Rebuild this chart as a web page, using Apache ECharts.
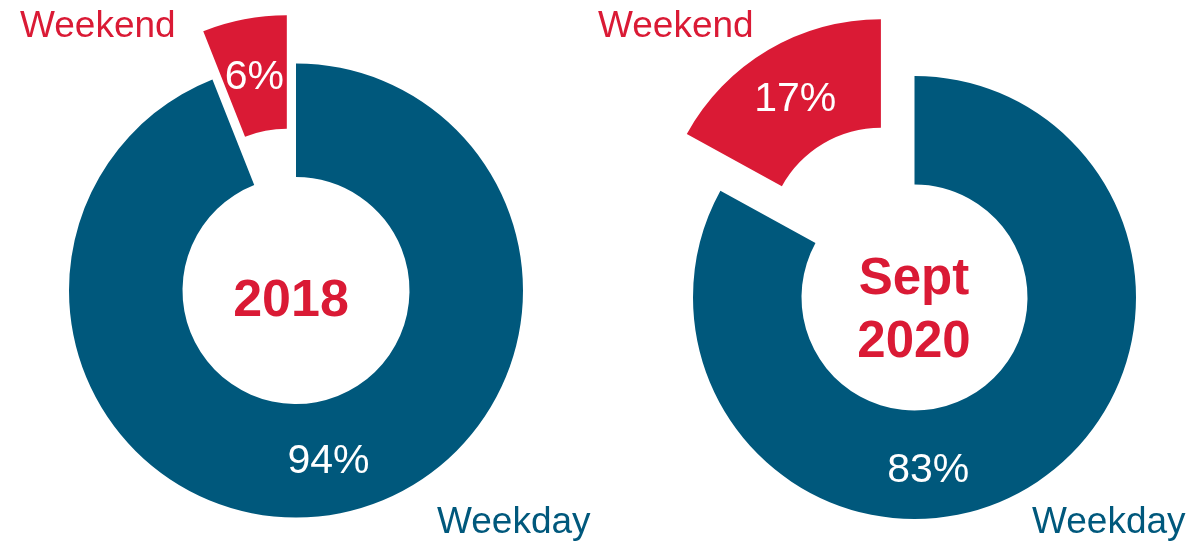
<!DOCTYPE html>
<html>
<head>
<meta charset="utf-8">
<script src="https://cdn.jsdelivr.net/npm/echarts@6/dist/echarts.min.js"></script>
<style>
html,body{margin:0;padding:0;background:#fff;}
#c{width:1203px;height:543px;}
</style>
</head>
<body>
<div id="c"></div>
<script>
const categories = ['Weekday', 'Weekend'];
const values2018 = [94, 6];
const valuesSept2020 = [83, 17];
const periodLabels = ['2018', 'Sept\n2020'];

const BLUE = '#00587C';
const RED = '#DA1A35';
const FONT = '"Liberation Sans", Arial, sans-serif';

function buildData(vals) {
  return categories.map((c, i) => ({
    name: c,
    value: vals[i],
    selected: c === 'Weekend',
    itemStyle: { color: i === 0 ? BLUE : RED }
  }));
}

function pieSeries(vals, center, radius, offset, layoutFn) {
  return {
    type: 'pie',
    center: center,
    radius: radius,
    startAngle: 90,
    clockwise: true,
    selectedMode: 'multiple',
    selectedOffset: offset,
    avoidLabelOverlap: false,
    silent: true,
    animation: false,
    emphasis: { disabled: true },
    select: { itemStyle: {} },
    label: {
      show: true,
      position: 'inside',
      formatter: '{c}%',
      color: '#fff',
      fontSize: 41,
      fontFamily: FONT
    },
    labelLine: { show: false },
    labelLayout: layoutFn,
    data: buildData(vals)
  };
}

const chart = echarts.init(document.getElementById('c'), null, { renderer: 'canvas' });

function txt(x, y, text, color, size, bold, align) {
  return {
    type: 'text',
    x: x, y: y,
    silent: true,
    style: {
      text: text,
      fill: color,
      font: (bold ? 'bold ' : '') + size + 'px ' + FONT,
      align: align || 'left',
      verticalAlign: 'middle',
      lineHeight: 63
    }
  };
}

chart.setOption({
  backgroundColor: '#fff',
  animation: false,
  series: [
    pieSeries(values2018, [296, 290.5], [113.5, 227], 49, function (p) {
      return p.dataIndex === 1 ? { dy: 6 } : { dy: 1 };
    }),
    pieSeries(valuesSept2020, [914.5, 297.5], [113, 221.5], 66, function (p) {
      return p.dataIndex === 0 ? { dx: -73, dy: 27 } : { dy: 6, dx: 1 };
    })
  ],
  graphic: [
    txt(20, 27, categories[1], RED, 37, false),
    txt(598, 27, categories[1], RED, 37, false),
    txt(437, 523, categories[0], BLUE, 37, false),
    txt(1032, 523, categories[0], BLUE, 37, false),
    txt(291, 302, periodLabels[0], RED, 52, true, 'center'),
    txt(914, 311, periodLabels[1], RED, 51, true, 'center')
  ]
});
</script>
</body>
</html>
